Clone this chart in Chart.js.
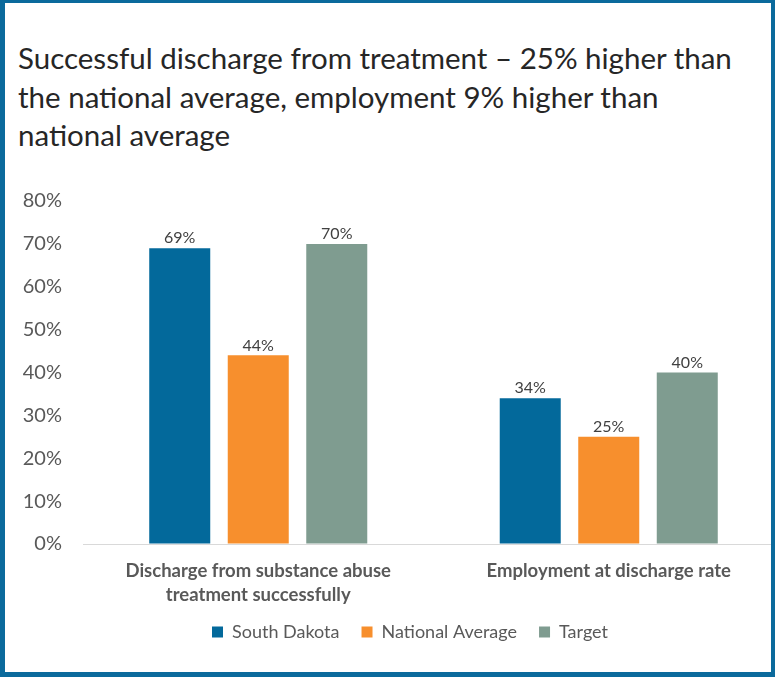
<!DOCTYPE html>
<html>
<head>
<meta charset="utf-8">
<script src="https://cdn.jsdelivr.net/npm/chart.js@4/dist/chart.umd.min.js"></script>
<style>
    html, body { margin: 0; padding: 0; background: #fff; }
    #page { position: relative; width: 775px; height: 677px; overflow: hidden; background: #fff; }
    #frame {
        position: absolute; left: 0; top: 0; width: 775px; height: 677px;
        box-sizing: border-box; border-style: solid; border-color: #0b6a9c;
        border-width: 3px 4px 5px 5px; pointer-events: none;
    }
    #title {
        position: absolute; left: 18px; top: 39px;
        font-family: Lato, "Open Sans", sans-serif; font-size: 29.5px; line-height: 38.5px;
        color: #262626; white-space: nowrap;
    }
    #chart { position: absolute; left: 0; top: 180px; }
</style>
</head>
<body>
<div id="page">
    <div id="title">Successful discharge from treatment – 25% higher than<br>the national average, employment 9% higher than<br>national average</div>
    <canvas id="chart" width="820" height="478"></canvas>
    <div id="frame"></div>
</div>
<script>
// Data
const categories = [
    ['Discharge from substance abuse', 'treatment successfully'],
    'Employment at discharge rate'
];
const seriesNames  = ['South Dakota', 'National Average', 'Target'];
const southDakota  = [69, 34];
const nationalAvg  = [44, 25];
const target       = [70, 40];
const yTicks       = [0, 10, 20, 30, 40, 50, 60, 70, 80];

const seriesColors = ['#03699b', '#f78f2d', '#7f9c90'];
const FONT = 'Lato, "Open Sans", sans-serif';

// Value labels above each bar
const barLabels = {
    id: 'barLabels',
    afterDatasetsDraw(chart) {
        const ctx = chart.ctx;
        ctx.save();
        ctx.font = '16px ' + FONT;
        ctx.fillStyle = '#404040';
        ctx.textAlign = 'center';
        ctx.textBaseline = 'middle';
        chart.data.datasets.forEach((ds, i) => {
            chart.getDatasetMeta(i).data.forEach((bar, j) => {
                ctx.fillText(ds.data[j] + '%', bar.x, bar.y - 10);
            });
        });
        ctx.restore();
    }
};

// Excel puts the legend a bit off-centre and close under the labels
const legendPlace = {
    id: 'legendPlace',
    afterLayout(chart) {
        const lg = chart.legend;
        if (!lg) return;
        lg.left = 36;
        lg.top = chart.chartArea.bottom + 57;
    }
};

const ctx = document.getElementById('chart').getContext('2d');
new Chart(ctx, {
    type: 'bar',
    data: {
        labels: categories,
        datasets: [southDakota, nationalAvg, target].map((d, i) => ({
            label: seriesNames[i],
            data: d,
            backgroundColor: seriesColors[i],
            categoryPercentage: 0.672,
            barPercentage: 0.777
        }))
    },
    options: {
        responsive: false,
        animation: false,
        layout: { padding: { left: 0, right: 36, top: 21, bottom: 0 } },
        scales: {
            x: {
                grid: { display: false, drawTicks: false },
                border: { display: true, color: '#d9d9d9', width: 1 },
                ticks: {
                    color: '#595959',
                    padding: 15,
                    maxRotation: 0,
                    font: { family: FONT, size: 18.5, weight: 'bold', lineHeight: 24 / 18.5 }
                },
                afterFit: s => { s.height = 64; }
            },
            y: {
                min: 0,
                max: 80,
                afterBuildTicks: s => { s.ticks = yTicks.map(v => ({ value: v })); },
                // invisible tick marks make the gap between labels and bars
                grid: { display: true, drawOnChartArea: false, drawTicks: true, tickLength: 21, color: 'rgba(0,0,0,0)' },
                border: { display: false },
                ticks: {
                    color: '#595959',
                    padding: 0,
                    font: { family: FONT, size: 20 },
                    callback: v => v + '%'
                },
                afterFit: s => { s.width = 83; }
            }
        },
        plugins: {
            legend: {
                position: 'bottom',
                labels: {
                    boxWidth: 11,
                    boxHeight: 11,
                    padding: 22,
                    color: '#595959',
                    font: { family: FONT, size: 18 }
                }
            },
            tooltip: { enabled: false }
        }
    },
    plugins: [barLabels, legendPlace]
});
</script>
</body>
</html>
